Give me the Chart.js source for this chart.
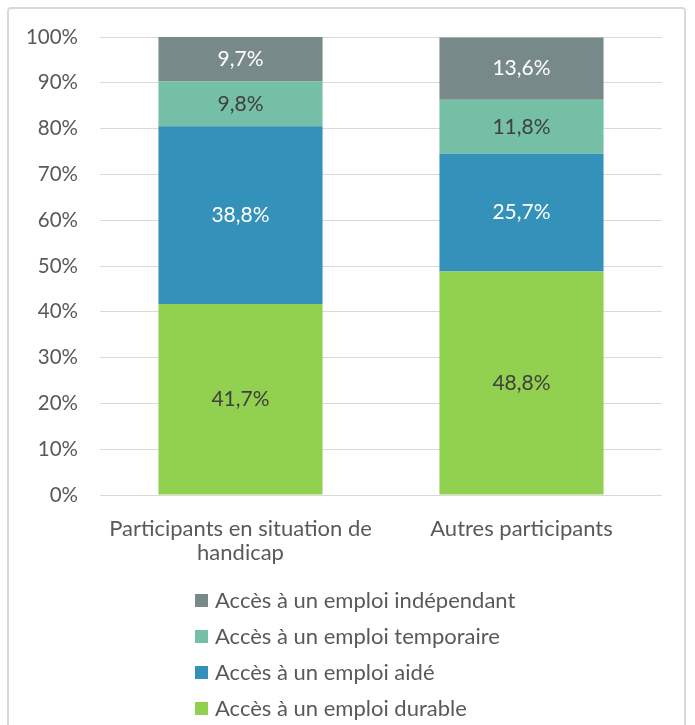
<!DOCTYPE html>
<html>
<head>
<meta charset="utf-8">
<script src="https://cdn.jsdelivr.net/npm/chart.js@4"></script>
<style>
  body { margin: 0; background: #fff; font-family: Lato, sans-serif; }
  #frame { position: absolute; left: 7px; top: 7px; width: 679px; height: 730px;
           border: 2px solid #d9d9d9; border-radius: 4px; box-sizing: border-box; }
  #chart { position: absolute; left: 0; top: 0; }
  #legend { position: absolute; left: 195px; top: 582px; color: #595959; font-size: 22px; }
  #legend div { height: 36px; line-height: 28px; display: flex; align-items: center; }
  #legend span.box { width: 13px; height: 13px; margin-right: 7px; display: inline-block; }
</style>
</head>
<body>
<div id="frame"></div>
<canvas id="chart" width="695" height="590"></canvas>
<div id="legend"></div>
<script>
// catégories et valeurs (en %)
const categories = [['Participants en situation de', 'handicap'], 'Autres participants'];
const seriesNames = ['Accès à un emploi durable', 'Accès à un emploi aidé',
  'Accès à un emploi temporaire', 'Accès à un emploi indépendant'];
const durable = [41.7, 48.8];
const aide = [38.8, 25.7];
const temporaire = [9.8, 11.8];
const independant = [9.7, 13.6];
const yTicks = [0, 10, 20, 30, 40, 50, 60, 70, 80, 90, 100];

const colors = ['#92d050', '#3492ba', '#74bfa6', '#78898a'];
const labelColors = ['#404040', '#ffffff', '#404040', '#ffffff'];

// étiquettes de données au centre de chaque segment
const barLabels = {
  id: 'barLabels',
  afterDatasetsDraw(chart) {
    const ctx = chart.ctx;
    ctx.save();
    ctx.font = '21px Lato';
    ctx.textAlign = 'center';
    ctx.textBaseline = 'middle';
    chart.data.datasets.forEach((ds, i) => {
      chart.getDatasetMeta(i).data.forEach((el, j) => {
        ctx.fillStyle = labelColors[i];
        const txt = ds.data[j].toFixed(1).replace('.', ',') + '%';
        ctx.fillText(txt, el.x, (el.y + el.base) / 2);
      });
    });
    ctx.restore();
  }
};

const chart = new Chart(document.getElementById('chart'), {
  type: 'bar',
  data: {
    labels: categories,
    datasets: [durable, aide, temporaire, independant].map((d, i) => ({
      label: seriesNames[i],
      data: d,
      backgroundColor: colors[i],
      barPercentage: 0.584,
      categoryPercentage: 1
    }))
  },
  options: {
    responsive: false,
    animation: false,
    layout: { padding: { top: 37, right: 33, bottom: 0, left: 0 } },
    plugins: { legend: { display: false }, tooltip: { enabled: false } },
    scales: {
      x: {
        stacked: true,
        grid: { display: false, drawTicks: false },
        border: { display: false },
        ticks: { color: '#595959', font: { family: 'Lato', size: 22, lineHeight: 1.1 }, padding: 22, maxRotation: 0 },
        afterFit(s) { s.height = 95; }
      },
      y: {
        stacked: true,
        min: 0, max: 100,
        afterBuildTicks(s) { s.ticks = yTicks.map(v => ({ value: v })); },
        grid: { color: '#d9d9d9', lineWidth: 1, drawTicks: false },
        border: { display: false },
        ticks: { color: '#595959', font: { family: 'Lato', size: 20.5 }, padding: 22, callback: v => v + '%' },
        afterFit(s) { s.width = 100; }
      }
    }
  },
  plugins: [barLabels]
});

// légende verticale, ordre inversé
const legend = document.getElementById('legend');
chart.data.datasets.slice().reverse().forEach(ds => {
  const row = document.createElement('div');
  row.innerHTML = '<span class="box" style="background:' + ds.backgroundColor + '"></span>' + ds.label;
  legend.appendChild(row);
});
</script>
</body>
</html>
